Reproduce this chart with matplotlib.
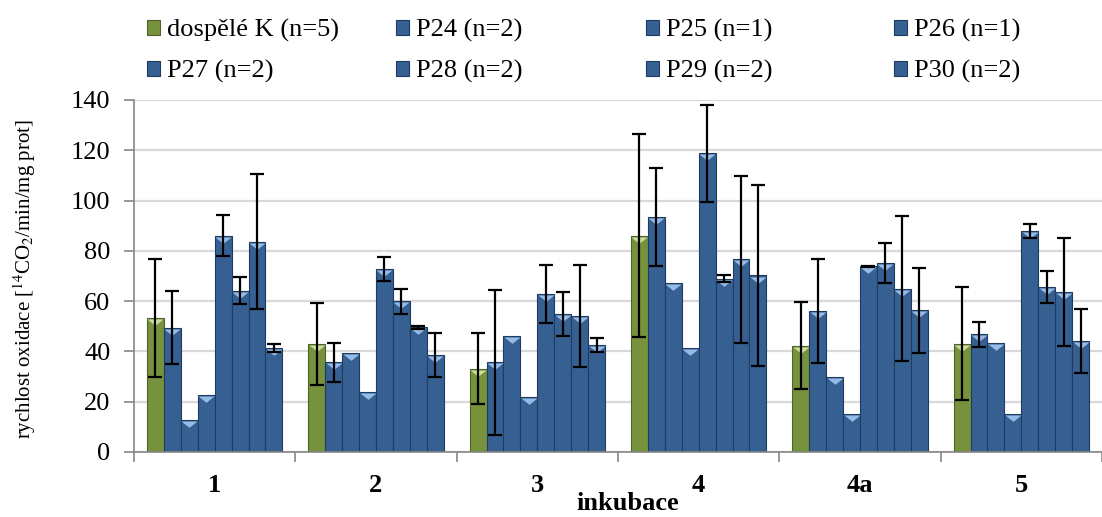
import matplotlib.pyplot as plt
import numpy as np

plt.rcParams['font.family'] = ['Liberation Serif', 'DejaVu Serif']
plt.rcParams['mathtext.fontset'] = 'stix'

inkubace = ["1", "2", "3", "4", "4a", "5"]
serie = ["dospělé K (n=5)", "P24 (n=2)", "P25 (n=1)", "P26 (n=1)",
         "P27 (n=2)", "P28 (n=2)", "P29 (n=2)", "P30 (n=2)"]

# průměry a chyby
K = [53.2, 43.0, 33.2, 86.1, 42.3, 43.1]
K_err = [23.5, 16.2, 14.3, 40.5, 17.3, 22.4]
P24 = [49.5, 35.7, 35.7, 93.4, 56.0, 46.8]
P24_err = [14.5, 7.7, 28.8, 19.5, 20.6, 4.9]
P25 = [12.7, 39.4, 46.3, 67.1, 29.9, 43.3]
P26 = [22.7, 24.0, 22.0, 41.3, 15.1, 15.3]
P27 = [86.1, 72.7, 62.8, 118.9, 73.8, 87.9]
P27_err = [8.0, 4.7, 11.5, 19.3, 0.3, 2.8]
P28 = [64.1, 60.0, 54.9, 69.0, 75.1, 65.6]
P28_err = [5.4, 5.0, 8.7, 1.3, 8.0, 6.5]
P29 = [83.7, 49.6, 54.1, 76.7, 65.0, 63.7]
P29_err = [26.7, 0.6, 20.4, 33.2, 28.7, 21.4]
P30 = [41.3, 38.5, 42.5, 70.2, 56.3, 44.1]
P30_err = [1.6, 8.7, 2.65, 36.1, 16.8, 12.8]

hodnoty = [K, P24, P25, P26, P27, P28, P29, P30]
chyby = [K_err, P24_err, None, None, P27_err, P28_err, P29_err, P30_err]

W, H = 1102, 517
fig = plt.figure(figsize=(W / 100, H / 100), dpi=100)
ax = fig.add_axes([134 / W, 65 / H, (W - 134) / W, 352 / H])

x = np.arange(len(inkubace))
w = 0.105
tri = [(-1, 0), (1, 0), (0, -0.8)]
handles = []
for i in range(len(serie)):
    if i == 0:
        c, ec, lc = "#76923C", "#4F6228", "#C9DDA0"
    else:
        c, ec, lc = "#376092", "#1F3B5E", "#95BBE8"
    pos = x + (i - 3.5) * w
    b = ax.bar(pos, hodnoty[i], w, color=c, edgecolor=ec, linewidth=0.8, zorder=2)
    handles.append(b)
    ax.scatter(pos, np.array(hodnoty[i]) - 0.4, marker=tri, s=130, color=lc,
               linewidths=0, zorder=3)
    if chyby[i] is not None:
        ax.errorbar(pos, hodnoty[i], yerr=chyby[i], fmt="none", ecolor="black",
                    elinewidth=1.6, capsize=5, capthick=1.6, zorder=4)

ax.set_xlim(-0.5, -0.5 + (W - 134) / 163)
ax.set_ylim(0, 140)
ax.set_yticks(np.arange(0, 141, 20))
ax.yaxis.grid(True, color="#D9D9D9", linewidth=1.6, zorder=0)
ax.set_axisbelow(True)

ax.set_xticks(x)
ax.set_xticklabels(inkubace, fontsize=19, fontweight="bold")
ax.set_xticks(np.arange(-0.5, 6, 1), minor=True)
ax.tick_params(axis="x", which="major", length=0, pad=16)
ax.tick_params(axis="x", which="minor", length=7, color="#868686", width=1.2)
ax.tick_params(axis="y", length=7, color="#868686", width=1.2, labelsize=19, pad=10)

for s in ["top", "right"]:
    ax.spines[s].set_visible(False)
for s in ["left", "bottom"]:
    ax.spines[s].set_color("#868686")
    ax.spines[s].set_linewidth(1.2)

ax.set_xlabel("inkubace", fontsize=19, fontweight="bold", va="center")
ax.xaxis.set_label_coords((628 - 134) / (W - 134), (452 - 504) / 352)
ax.set_ylabel("rychlost oxidace [$^{14}$CO$_2$/min/mg prot]", fontsize=15)
ax.yaxis.set_label_coords((38 - 134) / (W - 134), 0.49)

# legenda: 4 sloupce po 2 řádcích
sloupce_x = [147, 396, 646, 894]
for j in range(4):
    fig.legend([handles[j], handles[j + 4]], [serie[j], serie[j + 4]],
               loc="upper left", bbox_to_anchor=(sloupce_x[j] / W, 1 - 19 / H),
               frameon=False, fontsize=19, handlelength=0.5, handleheight=0.5,
               handletextpad=0.25, labelspacing=0.68, borderpad=0, borderaxespad=0)

fig.savefig("out.png", dpi=100)
